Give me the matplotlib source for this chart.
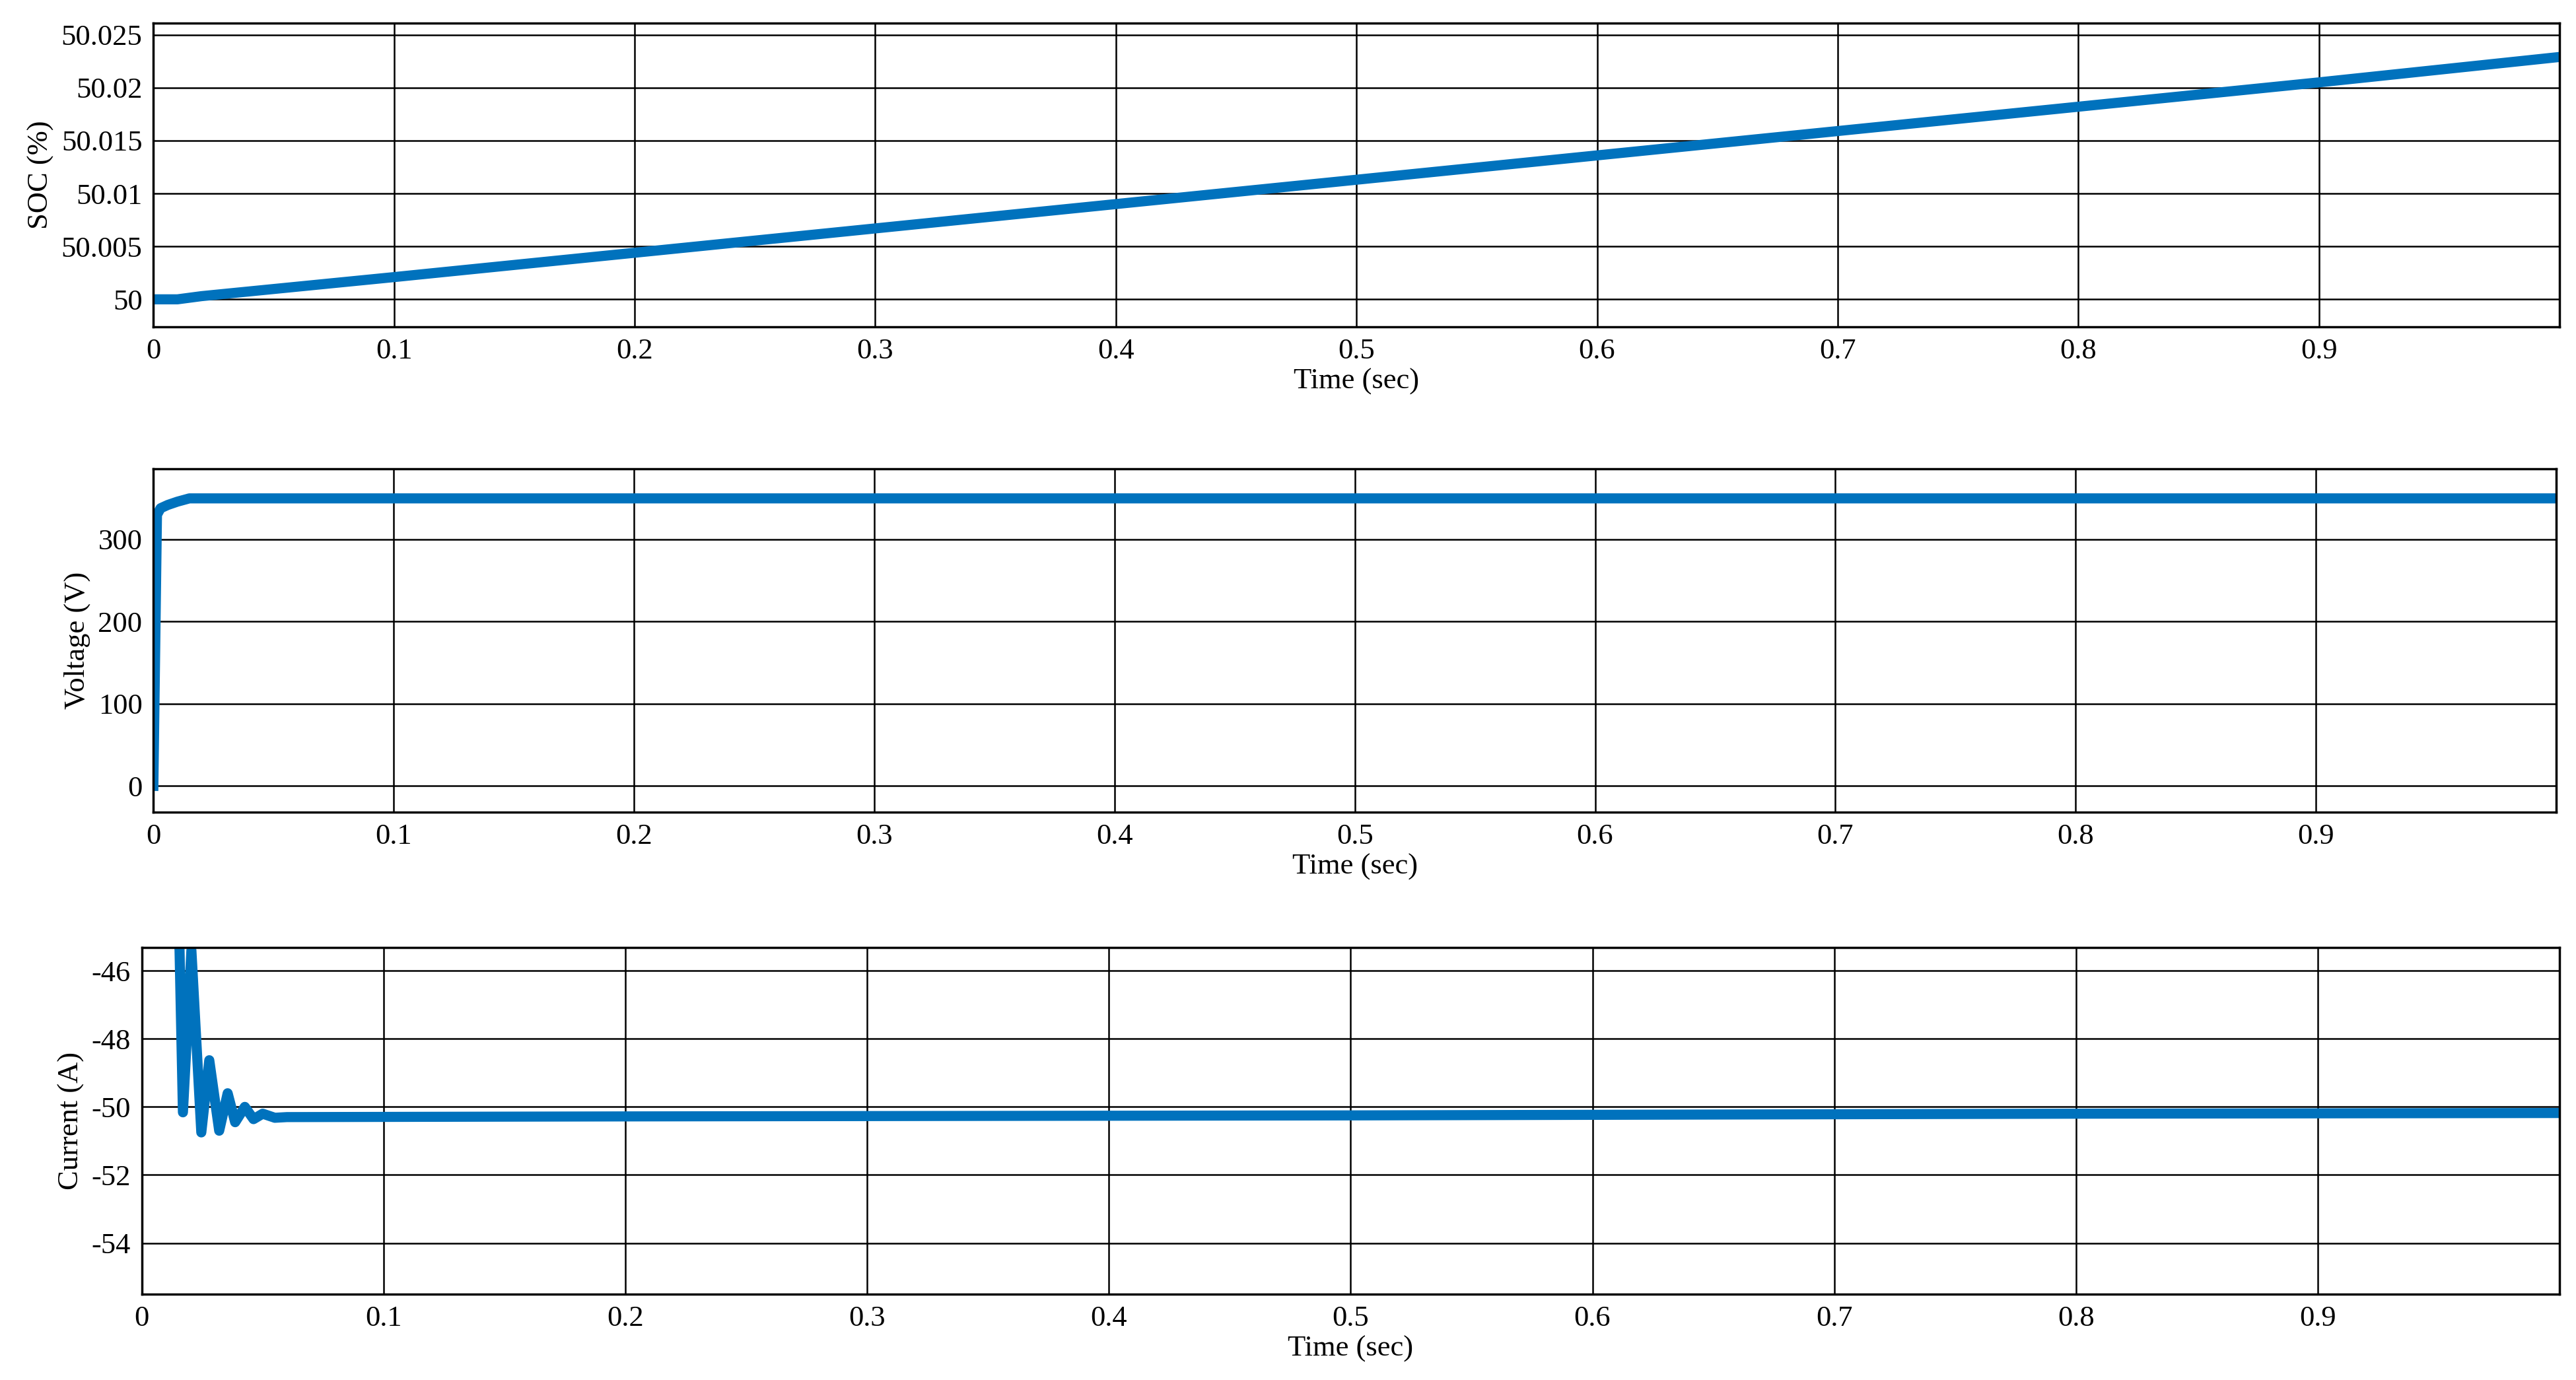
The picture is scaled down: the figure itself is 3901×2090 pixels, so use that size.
import numpy as np
import matplotlib.pyplot as plt

plt.rcParams['font.family'] = ['Liberation Serif', 'DejaVu Serif']
plt.rcParams['font.size'] = 32
plt.rcParams['axes.unicode_minus'] = False

# SOC (%)
soc_t = [0.0, 0.01, 0.02, 0.1, 0.2, 0.3, 0.4, 0.5, 0.6, 0.7, 0.8, 0.9, 1.0]
soc_v = [50.0, 50.0, 50.0003, 50.0021, 50.0044, 50.0067, 50.0090, 50.0113,
         50.0136, 50.0159, 50.0182, 50.0205, 50.0229]

# Voltage (V)
volt_t = [0.0, 0.0015, 0.003, 0.006, 0.01, 0.015, 0.02, 0.05, 1.0]
volt_v = [0.0, 330, 338, 342, 346, 350, 350, 350, 350]

# Current (A)
cur_t = [0.0, 0.012, 0.0156, 0.017, 0.0205, 0.0246, 0.0279, 0.032, 0.0355,
         0.0386, 0.0426, 0.0462, 0.05, 0.055, 0.06, 0.2, 0.5, 0.8, 1.0]
cur_v = [-30.0, -40.0, -45.4, -50.16, -45.4, -50.75, -48.63, -50.7, -49.6,
         -50.45, -50.0, -50.36, -50.2, -50.32, -50.3, -50.28, -50.25, -50.2, -50.18]

blue = '#0072BD'
fig = plt.figure(figsize=(39.01, 20.9), dpi=100)

def style(ax, ylab, yticks, ylim):
    ax.set_xlim(0, 1)
    ax.set_ylim(*ylim)
    ax.set_xticks(np.arange(0, 1.0, 0.1))
    ax.set_xticklabels(['0'] + ['%.1f' % v for v in np.arange(0.1, 1.0, 0.1)])
    ax.set_yticks(yticks)
    ax.grid(True, color='k', lw=1.8)
    ax.set_xlabel('Time (sec)', labelpad=4)
    ax.set_ylabel(ylab, labelpad=8)
    ax.tick_params(length=0, pad=12)
    for s in ax.spines.values():
        s.set_linewidth(2.5)

ax1 = fig.add_axes([93/1562, 1-198/836, 1459/1562, 184/836])
ax1.plot(soc_t, soc_v, color=blue, lw=11)
style(ax1, 'SOC (%)', [50, 50.005, 50.01, 50.015, 50.02, 50.025], (49.9974, 50.0261))
ax1.set_yticklabels(['50', '50.005', '50.01', '50.015', '50.02', '50.025'])

ax2 = fig.add_axes([93/1562, 1-492/836, 1457/1562, 208/836])
ax2.plot(volt_t, volt_v, color=blue, lw=11)
style(ax2, 'Voltage (V)', [0, 100, 200, 300], (-32, 386))

ax3 = fig.add_axes([86/1562, 1-784/836, 1466/1562, 210/836])
ax3.plot(cur_t, cur_v, color=blue, lw=11)
style(ax3, 'Current (A)', [-54, -52, -50, -48, -46], (-55.5, -45.32))

fig.savefig('out.png', dpi=100)
